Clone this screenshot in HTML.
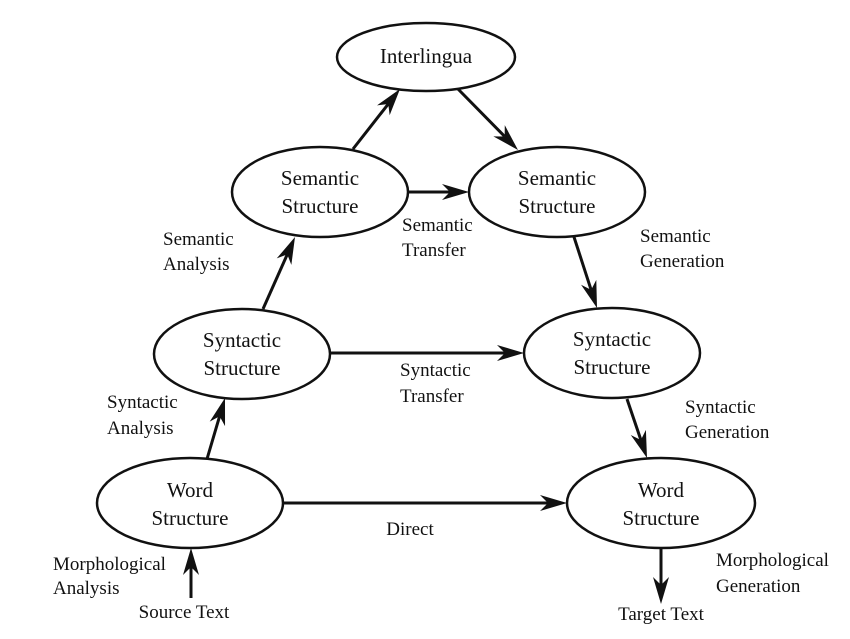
<!DOCTYPE html>
<html><head><meta charset="utf-8"><style>
html,body{margin:0;padding:0;background:#fff;}
svg{display:block;}
text{font-family:"Liberation Serif",serif;fill:#111;}
.n{font-size:21px;text-anchor:middle;}
.l{font-size:19px;}
</style></head><body>
<svg id="d" width="850" height="639" viewBox="0 0 850 639">
<g>
<g><ellipse cx="426" cy="57" rx="89" ry="34" fill="#fff" stroke="#111" stroke-width="2.5"/><text class="n" x="426" y="63">Interlingua</text></g>
<g><ellipse cx="320" cy="192" rx="88" ry="45" fill="#fff" stroke="#111" stroke-width="2.5"/><text class="n" x="320" y="185">Semantic</text><text class="n" x="320" y="213">Structure</text></g>
<g><ellipse cx="557" cy="192" rx="88" ry="45" fill="#fff" stroke="#111" stroke-width="2.5"/><text class="n" x="557" y="185">Semantic</text><text class="n" x="557" y="213">Structure</text></g>
<g><ellipse cx="242" cy="354" rx="88" ry="45" fill="#fff" stroke="#111" stroke-width="2.5"/><text class="n" x="242" y="347">Syntactic</text><text class="n" x="242" y="375">Structure</text></g>
<g><ellipse cx="612" cy="353" rx="88" ry="45" fill="#fff" stroke="#111" stroke-width="2.5"/><text class="n" x="612" y="346">Syntactic</text><text class="n" x="612" y="374">Structure</text></g>
<g><ellipse cx="190" cy="503" rx="93" ry="45" fill="#fff" stroke="#111" stroke-width="2.5"/><text class="n" x="190" y="497">Word</text><text class="n" x="190" y="525">Structure</text></g>
<g><ellipse cx="661" cy="503" rx="94" ry="45" fill="#fff" stroke="#111" stroke-width="2.5"/><text class="n" x="661" y="497">Word</text><text class="n" x="661" y="525">Structure</text></g>
</g>
<g id="arrows"></g>
<g>
<text class="l" x="163" y="245"><tspan x="163">Semantic</tspan><tspan x="163" y="270">Analysis</tspan></text>
<text class="l" x="402" y="231"><tspan x="402">Semantic</tspan><tspan x="402" y="256">Transfer</tspan></text>
<text class="l" x="640" y="242"><tspan x="640">Semantic</tspan><tspan x="640" y="267">Generation</tspan></text>
<text class="l" x="107" y="408"><tspan x="107">Syntactic</tspan><tspan x="107" y="434">Analysis</tspan></text>
<text class="l" x="400" y="376"><tspan x="400">Syntactic</tspan><tspan x="400" y="402">Transfer</tspan></text>
<text class="l" x="685" y="413"><tspan x="685">Syntactic</tspan><tspan x="685" y="438">Generation</tspan></text>
<text class="l" x="410" y="535" text-anchor="middle">Direct</text>
<text class="l" x="53" y="570"><tspan x="53">Morphological</tspan><tspan x="53" y="594">Analysis</tspan></text>
<text class="l" x="716" y="566"><tspan x="716">Morphological</tspan><tspan x="716" y="592">Generation</tspan></text>
<text class="l" x="184" y="618" text-anchor="middle">Source Text</text>
<text class="l" x="661" y="620" text-anchor="middle">Target Text</text>
</g>
</svg>
<script>
const arrowNames=['semantic-to-interlingua-arrow','interlingua-to-semantic-arrow','semantic-transfer-arrow','semantic-analysis-arrow','semantic-generation-arrow','syntactic-transfer-arrow','syntactic-analysis-arrow','syntactic-generation-arrow','direct-transfer-arrow','source-text-arrow','target-text-arrow'];
const arrowFrom=[[353,149],[458,89],[408,192],[263,309],[574,237],[330,353],[207,459],[627,399],[284,503],[191,598],[661,548]];
const arrowTo=[[400,89],[518,150],[469,192],[295,237],[597,308],[524,353],[225,398],[647,458],[567,503],[191,548],[661,604]];
const NS='http://www.w3.org/2000/svg';
const g=document.getElementById('arrows');
arrowNames.forEach((name,i)=>{
  const [x1,y1]=arrowFrom[i],[x2,y2]=arrowTo[i];
  const dx=x2-x1,dy=y2-y1,L=Math.hypot(dx,dy),ux=dx/L,uy=dy/L,px=-uy,py=ux;
  const hl=27,hw=8,nb=19;
  const grp=document.createElementNS(NS,'g');
  
  
  const ln=document.createElementNS(NS,'line');
  ln.setAttribute('x1',x1);ln.setAttribute('y1',y1);
  ln.setAttribute('x2',x2-ux*nb);ln.setAttribute('y2',y2-uy*nb);
  ln.setAttribute('stroke','#111');ln.setAttribute('stroke-width','3');
  const hd=document.createElementNS(NS,'path');
  const bx=x2-ux*hl,by=y2-uy*hl;
  hd.setAttribute('d',`M${x2},${y2} L${bx+px*hw},${by+py*hw} L${x2-ux*nb},${y2-uy*nb} L${bx-px*hw},${by-py*hw} Z`);
  hd.setAttribute('fill','#111');
  grp.appendChild(ln);grp.appendChild(hd);g.appendChild(grp);
});
</script>
</body></html>
